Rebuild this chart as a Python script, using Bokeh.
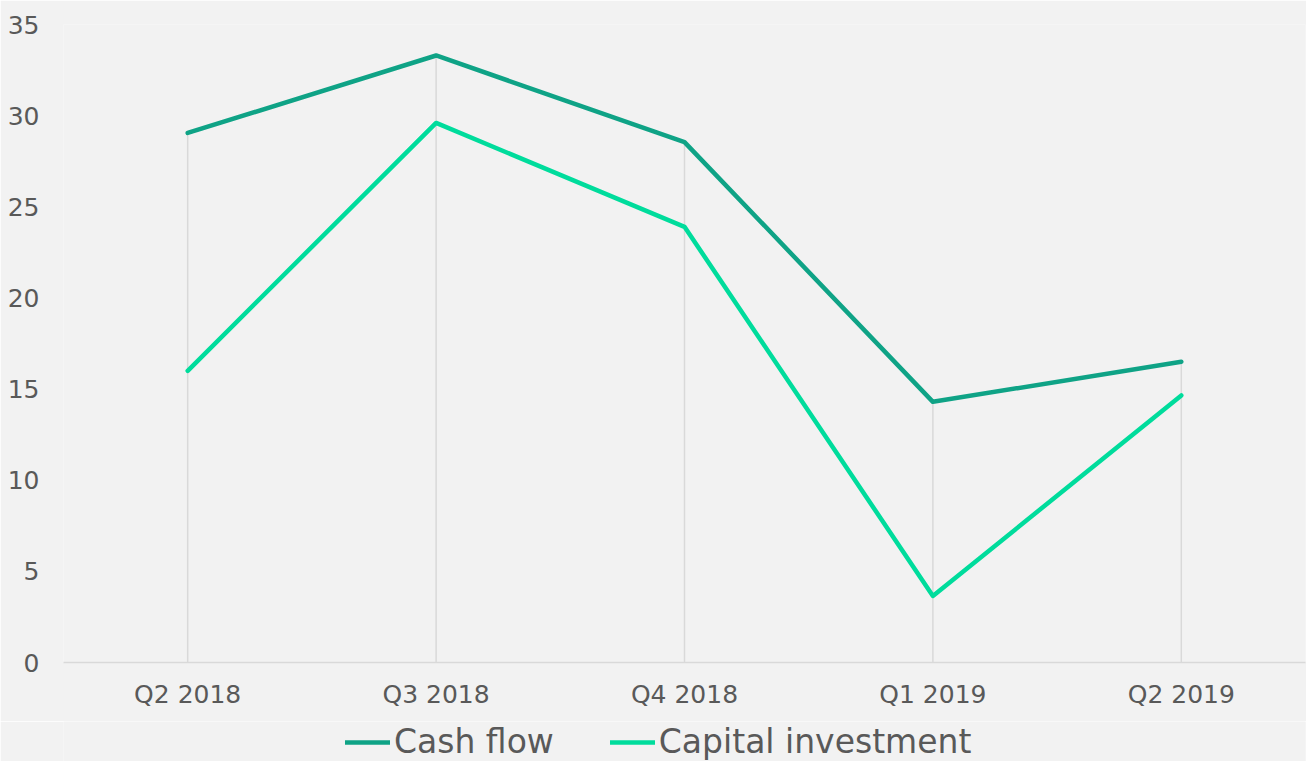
from bokeh.plotting import figure
from bokeh.layouts import column
from bokeh.models import Range1d, FixedTicker, Legend, LegendItem, ColumnDataSource
from bokeh.embed import file_html
from bokeh.resources import INLINE

quarters = ["Q2 2018", "Q3 2018", "Q4 2018", "Q1 2019", "Q2 2019"]
cash_flow = [29.05, 33.3, 28.55, 14.3, 16.5]
capital_investment = [16.0, 29.6, 23.9, 3.65, 14.65]
y_ticks = [0, 5, 10, 15, 20, 25, 30, 35]
series_names = ["Cash flow", "Capital investment"]
series_colors = ["#0fa386", "#00dc9c"]

FONT = "DejaVu Sans"
TXT = "#595959"
BG = "#f2f2f2"

src = ColumnDataSource(dict(q=quarters, cf=cash_flow, ci=capital_investment,
                            top=[max(a, b) for a, b in zip(cash_flow, capital_investment)],
                            zero=[0] * len(quarters)))

# ---- main chart ----
p = figure(x_range=quarters, y_range=Range1d(0, 35), width=1306, height=721,
           output_backend="svg", toolbar_location=None,
           min_border_left=63, min_border_right=1, min_border_top=24, min_border_bottom=59)
p.background_fill_color = BG
p.border_fill_color = BG
p.outline_line_color = None
p.xgrid.grid_line_color = None
p.ygrid.grid_line_color = None

p.segment(x0="q", y0="zero", x1="q", y1="top", source=src,
          line_color="#d9d9d9", line_width=1.5)
for col, c in zip(["cf", "ci"], series_colors):
    p.line("q", col, source=src, line_color=c, line_width=4.5,
           line_join="round", line_cap="round")

p.yaxis.ticker = FixedTicker(ticks=y_ticks)
p.yaxis.axis_line_color = None
p.yaxis.major_tick_line_color = None
p.yaxis.minor_tick_line_color = None
p.yaxis.major_tick_out = 0
p.yaxis.major_tick_in = 0
p.yaxis.major_label_standoff = 24
p.yaxis.major_label_text_font = FONT
p.yaxis.major_label_text_font_size = "25px"
p.yaxis.major_label_text_color = TXT

p.xaxis.axis_line_color = "#d9d9d9"
p.xaxis.axis_line_width = 1.5
p.xaxis.major_tick_line_color = None
p.xaxis.minor_tick_line_color = None
p.xaxis.major_tick_out = 0
p.xaxis.major_tick_in = 0
p.xaxis.major_label_standoff = 17
p.xaxis.major_label_text_font = FONT
p.xaxis.major_label_text_font_size = "25px"
p.xaxis.major_label_text_color = TXT

# ---- legend strip (series drawn out of view; only the legend keys show) ----
lg = figure(width=1306, height=40, x_range=quarters, y_range=Range1d(-20, -19),
            output_backend="svg", toolbar_location=None,
            x_axis_type=None, y_axis_type=None,
            min_border_left=63, min_border_right=1, min_border_top=0, min_border_bottom=0)
lg.background_fill_color = BG
lg.border_fill_color = BG
lg.outline_line_color = None
lg.xgrid.grid_line_color = None
lg.ygrid.grid_line_color = None

keys = [lg.line("q", col, source=src, line_color=c, line_width=4.5, line_cap="round")
        for col, c in zip(["cf", "ci"], series_colors)]
legend = Legend(items=[LegendItem(label=n, renderers=[k]) for n, k in zip(series_names, keys)],
                location=(282, 0), orientation="horizontal",
                background_fill_alpha=0, border_line_color=None,
                padding=0, margin=0, spacing=56, glyph_width=45, glyph_height=36,
                label_standoff=4, label_height=36,
                label_text_font=FONT, label_text_font_size="33px",
                label_text_color=TXT)
lg.add_layout(legend)

layout = column(p, lg, spacing=0)
open("out.html", "w").write(file_html(layout, INLINE))
